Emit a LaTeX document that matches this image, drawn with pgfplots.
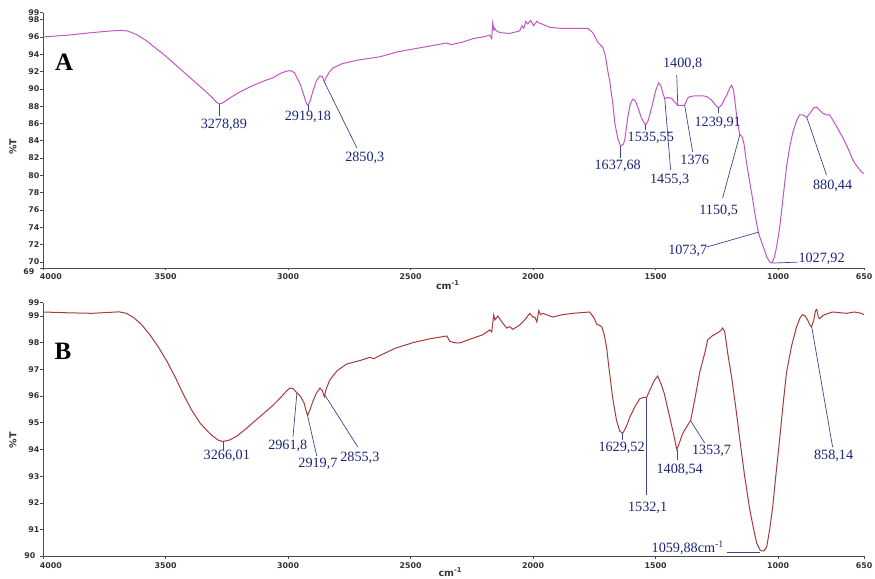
\documentclass[border=0pt]{standalone}
\usepackage{fontspec}
\setmainfont{Liberation Serif}
\newfontfamily\dejavu{DejaVu Sans}
\usepackage{pgfplots}
\pgfplotsset{compat=1.18}
\definecolor{specA}{RGB}{196,84,200}
\definecolor{specB}{RGB}{168,58,58}
\definecolor{anncol}{RGB}{28,36,120}
\definecolor{leadcol}{RGB}{60,70,140}
\tikzset{
  ann/.style={font=\fontsize{14.2}{16}\selectfont, text=anncol, inner sep=0pt},
  lead/.style={draw=leadcol, line width=0.7pt},
  desc/.style={font=\dejavu\bfseries\fontsize{9.5}{10}\selectfont, text=black!80},
}
\begin{document}
\begin{tikzpicture}
\useasboundingbox (0,0) rectangle (875pt,578pt);
\pgfplotsset{
  ftir/.style={
    scale only axis, width=821pt,
    x dir=reverse, xmin=650, xmax=4000,
    axis x line=bottom, axis y line=left,
    axis line style={-, draw=black!70, line width=0.8pt},
    tick style={draw=black!70, line width=0.6pt},
    tick align=outside, major tick length=2.5pt,
    xtick={3500,3000,2500,2000,1500,1000,650},
    xticklabels={3500,3000,2500,2000,1500,1000,650},
    extra x ticks={4000}, extra x tick labels={4000},
    extra x tick style={xticklabel style={xshift=8pt}},
    scaled x ticks=false, scaled y ticks=false,
    tick label style={font=\dejavu\bfseries\fontsize{7.9}{9}\selectfont, text=black!80},
    yticklabel style={inner xsep=1pt},
    /pgf/number format/assume math mode=true,
    clip=false,
  },
}
% ---------------- Panel A ----------------
\begin{axis}[ftir, at={(43pt,565.3pt)}, anchor=north west, height=255.3pt,
  ymin=69.3, ymax=98.8,
  ytick={70,72,74,76,78,80,82,84,86,88,90,92,94,96,98,98.8},
  yticklabels={70,72,74,76,78,80,82,84,86,88,90,92,94,96,98,99},
  extra y ticks={69.3}, extra y tick labels={69},
  extra y tick style={yticklabel style={xshift=-5pt,yshift=-4pt}},
]
\addplot[specA, line width=1pt] coordinates {
(4000,96.0)(3900,96.2)(3800,96.5)(3720,96.7)(3680,96.75)(3657,96.7)(3620,96.3)
(3580,95.6)(3540,94.7)(3500,93.8)(3460,92.8)(3420,91.8)(3380,90.8)(3340,89.8)
(3310,89.0)(3290,88.4)(3280,88.25)(3265,88.4)(3240,88.9)(3200,89.6)(3150,90.3)
(3100,90.9)(3060,91.3)(3030,91.8)(3005,92.05)(2990,92.1)(2975,91.9)(2962,91.2)
(2950,90.5)(2935,89.2)(2925,88.3)(2919,88.1)(2910,88.6)(2900,89.6)(2885,90.9)
(2870,91.5)(2860,91.4)(2852,90.8)(2845,91.3)(2830,92.0)(2817,92.4)(2780,92.9)
(2720,93.3)(2626,93.7)(2550,94.3)(2450,94.8)(2352,95.3)(2335,95.1)(2320,95.2)
(2287,95.4)(2246,95.8)(2205,96.0)(2177,96.2)(2169,95.8)(2165,97.6)(2160,96.8)
(2157,97.0)(2150,96.7)(2136,96.5)(2095,96.4)(2055,96.7)(2046,97.3)(2038,97.0)
(2030,97.8)(2022,97.5)(2010,97.9)(1998,97.3)(1985,97.8)(1975,97.6)(1965,97.5)
(1932,97.1)(1891,97.0)(1838,97.0)(1777,97.0)(1757,96.5)(1745,95.9)(1737,95.4)
(1716,94.8)(1705,93.8)(1695,92.0)(1688,91.0)(1675,88.3)(1667,86.1)(1655,84.3)
(1643,83.4)(1632,83.6)(1626,84.1)(1614,86.7)(1604,88.2)(1594,88.8)(1583,88.6)
(1573,87.9)(1558,86.6)(1541,85.8)(1530,86.4)(1516,87.9)(1500,89.8)(1488,90.7)
(1478,90.3)(1470,89.4)(1463,88.9)(1450,89.0)(1435,88.9)(1420,88.4)(1410,88.1)
(1395,88.1)(1382,88.1)(1370,88.9)(1361,89.1)(1340,89.2)(1320,89.2)(1308,89.2)
(1290,89.1)(1272,88.7)(1255,88.1)(1243,87.8)(1230,88.2)(1210,89.3)(1198,90.1)
(1190,90.4)(1183,89.9)(1178,88.9)(1168,86.5)(1157,84.7)(1148,84.5)(1140,83.7)
(1129,81.4)(1115,79.0)(1104,77.2)(1090,74.7)(1080,73.3)(1068,72.3)(1055,71.3)
(1047,70.6)(1035,70.0)(1025,69.9)(1015,70.6)(1005,72.0)(994,74.0)(980,77.5)
(966,81.0)(953,83.3)(941,84.9)(925,86.3)(913,87.0)(900,87.0)(884,86.7)(870,87.2)
(855,87.8)(843,87.9)(830,87.5)(819,87.2)(805,87.0)(790,87.0)(765,85.8)(737,84.4)
(715,83.1)(696,81.8)(680,81.1)(660,80.4)(650,80.2)
};
\node[font=\bfseries\fontsize{25}{28}\selectfont, inner sep=0pt] at (axis cs:3914,93.1) {A};
\node[rotate=90, desc] at (rel axis cs:-0.0365,0.474) {\%T};
\node[desc, yshift=-17pt] at (rel axis cs:0.493,0) {cm\textsuperscript{-1}};
% annotations
\draw[lead] (axis cs:3282,88.25) -- (axis cs:3282,86.9);
\node[ann] at (axis cs:3262,85.82) {3278,89};
\draw[lead] (axis cs:2919,88.1) -- (axis cs:2919,87.4);
\node[ann] at (axis cs:2919,86.75) {2919,18};
\draw[lead] (axis cs:2852,90.8) -- (axis cs:2719,83.16);
\node[ann] at (axis cs:2687,82.0) {2850,3};
\draw[lead] (axis cs:1643,83.4) -- (axis cs:1643,82.0);
\node[ann] at (axis cs:1655,81.08) {1637,68};
\draw[lead] (axis cs:1541,85.8) -- (axis cs:1541,85.25);
\node[ann] at (axis cs:1520,84.32) {1535,55};
\draw[lead] (axis cs:1463,88.9) -- (axis cs:1439,80.62);
\node[ann] at (axis cs:1443,79.46) {1455,3};
\draw[lead] (axis cs:1414,91.6) -- (axis cs:1410,88.13);
\node[ann] at (axis cs:1390,92.87) {1400,8};
\draw[lead] (axis cs:1382,88.13) -- (axis cs:1349,82.7);
\node[ann] at (axis cs:1341,81.77) {1376};
\draw[lead] (axis cs:1243,87.79) -- (axis cs:1243,87.2);
\node[ann] at (axis cs:1247,86.05) {1239,91};
\draw[lead] (axis cs:1157,84.66) -- (axis cs:1227,77.38);
\node[ann] at (axis cs:1243,75.88) {1150,5};
\draw[lead] (axis cs:1080,73.45) -- (axis cs:1292,71.72);
\node[ann] at (axis cs:1369,71.25) {1073,7};
\draw[lead] (axis cs:1023,69.87) -- (axis cs:921,69.98);
\node[ann] at (axis cs:823,70.33) {1027,92};
\draw[lead] (axis cs:884,86.75) -- (axis cs:803,80.04);
\node[ann] at (axis cs:778,78.77) {880,44};
\end{axis}
% ---------------- Panel B ----------------
\begin{axis}[ftir, at={(43pt,275.35pt)}, anchor=north west, height=253.65pt,
  ymin=90, ymax=99.5,
  ytick={91,92,93,94,95,96,97,98,99,99.5},
  yticklabels={91,92,93,94,95,96,97,98,99,99},
  extra y ticks={90}, extra y tick labels={90},
  extra y tick style={yticklabel style={xshift=-4pt,yshift=1pt}},
]
\addplot[specB, line width=1pt] coordinates {
(4000,99.15)(3900,99.12)(3800,99.1)(3700,99.15)(3686,99.15)(3660,99.1)(3633,98.96)
(3600,98.7)(3564,98.3)(3530,97.85)(3494,97.3)(3460,96.7)(3429,96.1)(3395,95.5)
(3360,95.0)(3330,94.7)(3307,94.5)(3285,94.35)(3266,94.3)(3240,94.35)(3209,94.5)
(3175,94.75)(3144,95.0)(3100,95.35)(3062,95.65)(3030,95.95)(3005,96.2)(2993,96.3)
(2980,96.28)(2964,96.12)(2950,96.0)(2935,95.75)(2925,95.4)(2919,95.3)(2910,95.5)
(2899,95.8)(2885,96.1)(2870,96.3)(2860,96.2)(2852,95.98)(2845,96.25)(2830,96.6)
(2800,96.95)(2761,97.2)(2700,97.35)(2667,97.45)(2650,97.4)(2630,97.5)(2560,97.8)
(2491,98.0)(2420,98.15)(2352,98.25)(2340,98.05)(2320,98.0)(2299,97.99)(2258,98.13)
(2205,98.3)(2177,98.48)(2169,98.4)(2161,99.04)(2156,98.85)(2152,98.9)(2144,99.0)
(2128,98.78)(2108,98.55)(2095,98.6)(2083,98.5)(2055,98.66)(2030,98.9)(2014,99.1)
(2000,98.95)(1993,98.96)(1985,98.78)(1977,99.2)(1970,99.05)(1961,99.1)(1920,98.96)
(1880,99.05)(1838,99.1)(1769,99.15)(1750,98.9)(1741,98.7)(1720,98.6)(1710,98.3)
(1700,97.8)(1690,97.0)(1675,95.9)(1660,95.1)(1647,94.7)(1635,94.6)(1620,94.85)
(1606,95.2)(1585,95.6)(1565,95.9)(1550,95.95)(1537,95.95)(1520,96.3)(1505,96.6)
(1492,96.75)(1480,96.5)(1465,96.1)(1455,95.7)(1440,95.1)(1425,94.5)(1414,94.0)
(1405,94.2)(1390,94.6)(1370,94.9)(1357,95.1)(1340,95.9)(1320,96.9)(1300,97.6)
(1288,98.1)(1270,98.25)(1251,98.35)(1235,98.45)(1227,98.55)(1218,98.4)(1206,97.6)
(1190,96.7)(1175,95.7)(1157,94.4)(1137,93.0)(1117,91.8)(1100,91.0)(1088,90.5)
(1075,90.25)(1068,90.2)(1058,90.2)(1047,90.35)(1035,91.0)(1023,91.8)(1010,93.0)
(994,94.4)(980,95.7)(966,96.9)(945,97.9)(925,98.6)(910,98.95)(901,99.05)(890,99.0)
(880,98.85)(870,98.65)(864,98.6)(855,98.85)(848,99.2)(843,99.25)(836,98.95)
(831,98.9)(820,99.0)(811,99.05)(795,99.1)(778,99.15)(720,99.1)(690,99.15)
(660,99.1)(650,99.05)
};
\node[font=\bfseries\fontsize{25}{28}\selectfont, inner sep=0pt] at (axis cs:3918,97.69) {B};
\node[rotate=90, desc] at (rel axis cs:-0.0365,0.458) {\%T};
\node[desc, yshift=-15.7pt] at (rel axis cs:0.496,0) {cm\textsuperscript{-1}};
% annotations
\draw[lead] (axis cs:3266,94.3) -- (axis cs:3266,93.98);
\node[ann] at (axis cs:3250,93.76) {3266,01};
\draw[lead] (axis cs:2964,96.12) -- (axis cs:2980,94.47);
\node[ann] at (axis cs:3001,94.13) {2961,8};
\draw[lead] (axis cs:2923,95.37) -- (axis cs:2883,93.76);
\node[ann] at (axis cs:2878,93.46) {2919,7};
\draw[lead] (axis cs:2850,96.04) -- (axis cs:2715,94.09);
\node[ann] at (axis cs:2707,93.68) {2855,3};
\draw[lead] (axis cs:1635,94.62) -- (axis cs:1635,94.36);
\node[ann] at (axis cs:1639,94.06) {1629,52};
\draw[lead] (axis cs:1537,95.93) -- (axis cs:1537,92.3);
\node[ann] at (axis cs:1533,91.81) {1532,1};
\draw[lead] (axis cs:1410,93.98) -- (axis cs:1410,93.6);
\node[ann] at (axis cs:1402,93.23) {1408,54};
\draw[lead] (axis cs:1357,95.07) -- (axis cs:1300,94.24);
\node[ann] at (axis cs:1272,93.94) {1353,7};
\draw[lead] (axis cs:1210,90.16) -- (axis cs:1076,90.16);
\node[ann] at (axis cs:1369,90.31) {1059,88cm\textsuperscript{-1}};
\draw[lead] (axis cs:864,98.63) -- (axis cs:778,94.09);
\node[ann] at (axis cs:774,93.76) {858,14};
\end{axis}
\end{tikzpicture}
\end{document}
